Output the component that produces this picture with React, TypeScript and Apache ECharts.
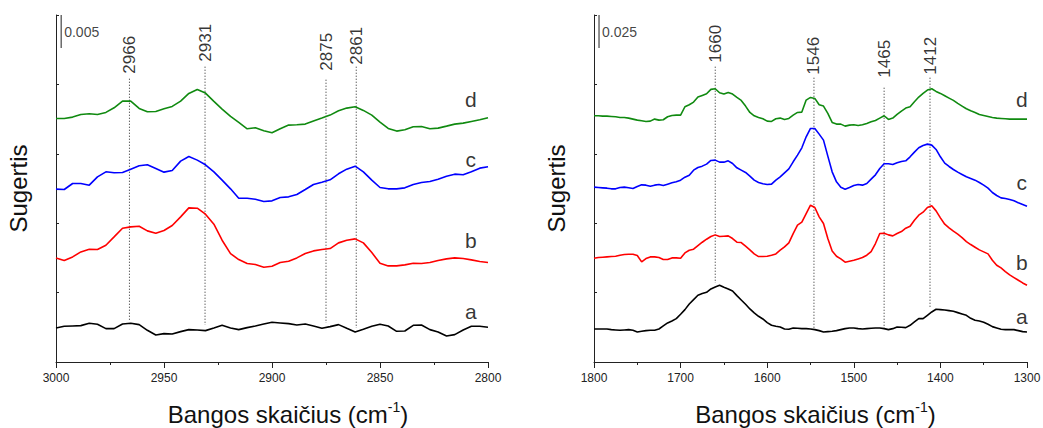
import React, { useEffect, useRef } from "react";
import * as echarts from "echarts";

// ---------- data (arbitrary absorbance units, offsets included) ----------
const WN_LEFT = [
  3000, 2996.2, 2992.3, 2988.5, 2984.6, 2980.8, 2976.9, 2973.1, 2969.2, 2965.4,
  2961.5, 2957.7, 2953.8, 2950, 2946.2, 2942.3, 2938.5, 2934.6, 2930.8, 2926.9,
  2923.1, 2919.2, 2915.4, 2911.5, 2907.7, 2903.8, 2900, 2896.2, 2892.3, 2888.5,
  2884.6, 2880.8, 2876.9, 2873.1, 2869.2, 2865.4, 2861.5, 2857.7, 2853.8, 2850,
  2846.2, 2842.3, 2838.5, 2834.6, 2830.8, 2826.9, 2823.1, 2819.2, 2815.4, 2811.5,
  2807.7, 2803.8, 2800,
];
const A_LEFT = [
  10.2, 10.7, 10.8, 10.9, 11.6, 11.3, 10.0, 10.0, 11.4, 11.6,
  11.2, 9.5, 8.1, 8.5, 8.4, 9.1, 9.7, 9.6, 9.4, 10.2,
  11.0, 10.2, 9.7, 10.3, 10.8, 11.4, 11.9, 11.7, 11.5, 11.1,
  11.4, 10.8, 10.1, 10.6, 11.2, 10.1, 9.0, 9.8, 10.7, 11.3,
  10.8, 9.2, 9.3, 11.0, 11.1, 9.7, 9.0, 7.8, 8.2, 9.6,
  10.7, 10.7, 10.4,
];
const B_LEFT = [
  31.2, 30.4, 31.5, 33.0, 33.8, 33.7, 35.0, 37.5, 40.1, 40.5,
  40.7, 39.3, 38.6, 39.4, 40.9, 43.5, 46.2, 46.1, 44.3, 41.3,
  36.5, 32.5, 30.7, 29.5, 29.2, 28.4, 28.7, 29.8, 30.2, 31.2,
  32.5, 33.3, 33.7, 34.0, 35.7, 36.5, 36.9, 35.7, 32.8, 29.6,
  28.8, 28.8, 29.1, 29.6, 29.5, 29.8, 30.4, 30.9, 31.2, 31.0,
  30.6, 30.1, 29.8,
];
const C_LEFT = [
  51.8, 51.7, 53.5, 53.5, 53.0, 55.5, 57.0, 56.7, 56.8, 57.8,
  58.8, 59.1, 58.0, 56.9, 57.4, 60.2, 61.6, 60.5, 59.1, 57.0,
  54.5, 51.9, 49.1, 49.1, 48.8, 48.1, 48.3, 49.3, 49.5, 50.2,
  51.7, 53.2, 53.9, 54.6, 56.4, 57.8, 58.7, 57.0, 54.5, 52.3,
  51.9, 51.9, 52.2, 53.2, 53.8, 54.1, 54.8, 55.7, 56.3, 56.1,
  57.0, 58.1, 58.5,
];
const D_LEFT = [
  73.0, 73.0, 73.4, 74.2, 74.4, 74.2, 74.8, 76.2, 78.2, 78.2,
  76.0, 75.0, 75.1, 75.9, 76.6, 78.2, 80.5, 81.7, 80.6, 78.1,
  75.8, 73.6, 71.8, 69.9, 70.2, 69.3, 68.7, 69.9, 71.0, 71.1,
  71.3, 72.2, 73.1, 74.0, 75.3, 76.1, 76.5, 75.4, 74.0, 71.9,
  70.0, 69.2, 69.6, 70.5, 70.6, 69.9, 70.1, 70.7, 71.3, 71.6,
  72.1, 72.6, 73.2,
];

const WN_RIGHT = [
  1800, 1795, 1790, 1785, 1780, 1775, 1770, 1765, 1760, 1755,
  1750, 1745, 1740, 1735, 1730, 1725, 1720, 1715, 1710, 1705,
  1700, 1695, 1690, 1685, 1680, 1675, 1670, 1665, 1660, 1655,
  1650, 1645, 1640, 1635, 1630, 1625, 1620, 1615, 1610, 1605,
  1600, 1595, 1590, 1585, 1580, 1575, 1570, 1565, 1560, 1555,
  1550, 1545, 1540, 1535, 1530, 1525, 1520, 1515, 1510, 1505,
  1500, 1495, 1490, 1485, 1480, 1475, 1470, 1465, 1460, 1455,
  1450, 1445, 1440, 1435, 1430, 1425, 1420, 1415, 1410, 1405,
  1400, 1395, 1390, 1385, 1380, 1375, 1370, 1365, 1360, 1355,
  1350, 1345, 1340, 1335, 1330, 1325, 1320, 1315, 1310, 1305,
  1300,
];
const A_RIGHT = [
  9.9, 9.9, 9.9, 9.9, 9.7, 9.6, 9.5, 9.6, 9.7, 9.5,
  9.0, 9.2, 9.4, 9.5, 9.5, 9.9, 10.8, 11.7, 12.3, 13.0,
  14.3, 15.7, 17.4, 18.7, 20.0, 20.5, 20.9, 21.9, 22.5, 23.0,
  22.4, 21.9, 21.3, 19.9, 18.6, 17.3, 15.9, 14.7, 13.7, 12.9,
  11.8, 11.0, 10.7, 10.5, 9.9, 9.8, 10.2, 10.1, 10.0, 10.0,
  9.9, 9.7, 9.4, 9.0, 9.1, 9.2, 9.4, 9.7, 10.0, 10.2,
  10.2, 10.0, 9.9, 10.0, 10.1, 10.2, 10.2, 10.0, 9.7, 10.0,
  10.5, 10.4, 10.3, 11.0, 12.0, 13.0, 13.0, 14.0, 15.0, 15.8,
  15.7, 15.6, 15.4, 15.2, 14.8, 14.4, 14.0, 13.1, 12.5, 12.3,
  11.9, 11.3, 10.6, 10.2, 9.8, 9.7, 9.7, 9.7, 9.4, 9.1,
  9.0,
];
const B_RIGHT = [
  31.1, 31.3, 31.4, 31.5, 31.6, 31.7, 32.0, 32.2, 32.3, 32.3,
  31.9, 30.0, 31.0, 31.5, 31.5, 31.3, 30.7, 30.7, 31.2, 31.2,
  31.1, 32.7, 33.5, 33.8, 34.9, 35.9, 36.8, 37.6, 38.1, 37.6,
  37.7, 37.8, 37.0, 35.9, 35.8, 34.7, 33.6, 32.4, 31.6, 31.6,
  31.7, 32.0, 32.4, 33.5, 34.5, 35.7, 38.5, 41.0, 41.9, 44.5,
  47.0, 46.3, 43.5, 41.5, 37.0, 33.3, 31.7, 30.9, 29.9, 30.2,
  30.5, 30.9, 31.3, 32.0, 33.1, 35.5, 38.5, 38.6, 38.1, 37.8,
  38.5, 39.1, 40.1, 40.7, 42.5, 44.0, 44.9, 46.3, 46.8, 45.3,
  43.2, 41.3, 40.2, 39.2, 38.3, 37.3, 36.1, 35.2, 34.4, 33.6,
  33.0, 32.4, 30.5, 29.0, 28.2, 27.1, 26.1, 25.3, 24.5, 23.7,
  23.0,
];
const C_RIGHT = [
  52.4, 52.3, 52.2, 52.1, 51.9, 51.9, 52.3, 52.4, 52.2, 52.0,
  52.6, 53.1, 53.0, 52.7, 53.0, 53.2, 52.9, 53.3, 53.7, 54.0,
  54.5, 55.4, 56.0, 57.5, 58.3, 58.7, 59.3, 60.4, 60.5, 59.9,
  59.9, 60.3, 59.5, 58.2, 57.5, 56.8, 55.7, 54.5, 53.8, 53.4,
  53.2, 53.3, 54.5, 55.5, 56.7, 57.9, 60.0, 62.0, 64.2, 67.5,
  70.0, 70.0, 68.3, 66.5, 61.7, 57.0, 54.0, 52.4, 51.8, 52.3,
  52.9, 53.2, 53.0, 53.5, 54.8, 56.1, 58.0, 59.4, 59.4, 59.2,
  59.7, 60.1, 60.3, 61.5, 62.9, 64.2, 64.9, 65.3, 65.0, 63.7,
  61.5, 59.6, 58.6, 57.7, 56.9, 56.2, 55.5, 55.0, 54.5, 53.8,
  53.0, 52.1, 50.8, 49.9, 49.2, 49.0, 48.7, 48.3, 47.7, 47.2,
  46.7,
];
const D_RIGHT = [
  73.8, 73.8, 73.7, 73.7, 73.6, 73.5, 73.3, 73.3, 73.1, 72.8,
  72.5, 72.3, 72.1, 72.2, 72.8, 72.5, 72.6, 73.5, 73.9, 74.0,
  74.0, 76.5, 77.1, 77.9, 79.4, 79.9, 80.4, 81.7, 81.9, 80.7,
  80.3, 80.8, 80.3, 79.3, 78.4, 76.7, 74.8, 73.8, 73.3, 72.9,
  72.2, 72.1, 72.9, 73.1, 72.7, 73.0, 74.0, 74.8, 74.9, 78.5,
  79.3, 79.0, 77.1, 76.7, 74.5, 71.8, 71.3, 71.3, 70.7, 71.0,
  71.1, 70.9, 71.1, 71.5, 72.0, 72.4, 73.1, 73.8, 72.7, 73.1,
  74.2, 75.2, 76.1, 76.5, 78.0, 79.4, 80.5, 81.5, 81.9, 81.1,
  80.5, 79.8, 79.1, 78.4, 77.5, 76.7, 75.9, 75.3, 74.8, 74.2,
  73.9, 73.6, 73.3, 73.1, 73.0, 72.9, 72.8, 72.8, 72.8, 72.8,
  72.8,
];

const CURVE_NAMES = ["a", "b", "c", "d"];

// peak annotations (wavenumber, label base, dotted line top/bottom)
const LEFT_PEAKS = [2966, 2931, 2875, 2861];
const LEFT_PEAK_LABEL_Y = [86.4, 90.0, 87.3, 89.1];
const LEFT_PEAK_TOP = [84.9, 88.5, 84.6, 88.5];
const LEFT_PEAK_BOTTOM = [12.6, 11.1, 11.7, 10.2];

const RIGHT_PEAKS = [1660, 1546, 1465, 1412];
const RIGHT_PEAK_LABEL_Y = [89.7, 86.1, 85.2, 86.1];
const RIGHT_PEAK_TOP = [88.5, 85.2, 82.2, 85.2];
const RIGHT_PEAK_BOTTOM = [23.7, 10.2, 10.2, 16.2];

// curve-letter anchors
const LEFT_LETTER_X = 2808;
const LEFT_LETTER_Y = [15.0, 36.3, 60.6, 78.6];
const RIGHT_LETTER_X = 1306;
const RIGHT_LETTER_Y = [13.5, 29.7, 53.7, 78.6];

// scale bars
const LEFT_SCALE = { x: 2997.6, top: 104, bottom: 94.1, label: "0.005" };
const RIGHT_SCALE = { x: 1794.2, top: 104, bottom: 94.1, label: "0.025" };

const FONT = "'Liberation Sans', Arial, Helvetica, sans-serif";
const COLORS = ["#000000", "#ff0000", "#0000ff", "#108a10"];

function zip(xs: number[], ys: number[]) {
  return xs.map((x, i) => [x, ys[i]]);
}

export default function App() {
  const ref = useRef<HTMLDivElement>(null);

  useEffect(() => {
    if (!ref.current) return;
    const chart = echarts.init(ref.current, undefined, { renderer: "svg" });

    const xName = (pad: number) => ({
      name: "{a|Bangos skaičius (cm}{s|-1}{a|)}",
      nameLocation: "middle",
      nameGap: 38,
      nameTextStyle: {
        padding: [0, 0, 0, pad],
        rich: {
          a: { fontSize: 24, fontFamily: FONT, color: "#111", lineHeight: 28 },
          s: { fontSize: 14, fontFamily: FONT, color: "#111", lineHeight: 16, verticalAlign: "top" },
        },
      },
    });

    const xAxisBase = {
      type: "value",
      inverse: true,
      axisLine: { show: true, lineStyle: { color: "#222", width: 1 } },
      axisTick: { show: true, length: 6, lineStyle: { color: "#222", width: 1 } },
      minorTick: { show: true, splitNumber: 2, length: 3, lineStyle: { color: "#222", width: 1 } },
      axisLabel: {
        fontSize: 12,
        color: "#222",
        fontFamily: FONT,
        margin: 10,
        showMinLabel: true,
        showMaxLabel: true,
        formatter: (v: number) => String(v),
      },
      splitLine: { show: false },
      minorSplitLine: { show: false },
    };

    const yAxisBase = {
      type: "value",
      min: 0,
      max: 104,
      interval: 20.8,
      axisLine: { show: true, lineStyle: { color: "#222", width: 1 } },
      axisTick: { show: true, inside: true, length: 3, lineStyle: { color: "#222" } },
      axisLabel: { show: false },
      splitLine: { show: false },
      name: "Sugertis",
      nameLocation: "middle",
      nameGap: 26,
      nameRotate: 90,
      nameTextStyle: { fontSize: 24, fontFamily: FONT, color: "#111" },
    };

    const series: any[] = [];
    const leftCurves = [A_LEFT, B_LEFT, C_LEFT, D_LEFT];
    const rightCurves = [A_RIGHT, B_RIGHT, C_RIGHT, D_RIGHT];

    const addPanel = (
      idx: number,
      xs: number[],
      curves: number[][],
      peaks: number[],
      labelY: number[],
      top: number[],
      bottom: number[],
      letterX: number,
      letterY: number[],
      scale: { x: number; top: number; bottom: number; label: string }
    ) => {
      peaks.forEach((p, i) => {
        series.push({
          type: "line",
          xAxisIndex: idx,
          yAxisIndex: idx,
          data: [
            [p, top[i]],
            [p, bottom[i]],
          ],
          symbol: "none",
          silent: true,
          lineStyle: { color: "#222", width: 1, type: [1, 2] },
          z: 1,
        });
      });
      curves.forEach((c, i) => {
        series.push({
          type: "line",
          name: CURVE_NAMES[i],
          xAxisIndex: idx,
          yAxisIndex: idx,
          data: zip(xs, c),
          symbol: "none",
          silent: true,
          lineStyle: { color: COLORS[i], width: 1.6 },
          z: 3,
        });
      });
      series.push({
        type: "scatter",
        xAxisIndex: idx,
        yAxisIndex: idx,
        symbolSize: 0,
        silent: true,
        data: peaks.map((p, i) => ({ value: [p, labelY[i]], name: String(p) })),
        label: {
          show: true,
          formatter: "{b}",
          position: "inside",
          rotate: 90,
          align: "left",
          verticalAlign: "middle",
          fontSize: 17,
          fontFamily: FONT,
          color: "#000",
        },
      });
      series.push({
        type: "scatter",
        xAxisIndex: idx,
        yAxisIndex: idx,
        symbolSize: 0,
        silent: true,
        data: CURVE_NAMES.map((n, i) => ({ value: [letterX, letterY[i]], name: n })),
        label: {
          show: true,
          formatter: "{b}",
          position: "inside",
          fontSize: 21,
          fontFamily: FONT,
          color: "#000",
        },
      });
      series.push({
        type: "line",
        xAxisIndex: idx,
        yAxisIndex: idx,
        data: [
          [scale.x, scale.top],
          [scale.x, scale.bottom],
        ],
        symbol: "none",
        silent: true,
        lineStyle: { color: "#444", width: 1.2 },
      });
      series.push({
        type: "scatter",
        xAxisIndex: idx,
        yAxisIndex: idx,
        symbolSize: 0,
        silent: true,
        data: [{ value: [scale.x, (scale.top + scale.bottom) / 2], name: scale.label }],
        label: {
          show: true,
          formatter: "{b}",
          position: "inside",
          align: "left",
          verticalAlign: "middle",
          offset: [3, 0],
          fontSize: 14,
          fontFamily: FONT,
          color: "#111",
        },
      });
    };

    addPanel(0, WN_LEFT, leftCurves, LEFT_PEAKS, LEFT_PEAK_LABEL_Y, LEFT_PEAK_TOP, LEFT_PEAK_BOTTOM, LEFT_LETTER_X, LEFT_LETTER_Y, LEFT_SCALE);
    addPanel(1, WN_RIGHT, rightCurves, RIGHT_PEAKS, RIGHT_PEAK_LABEL_Y, RIGHT_PEAK_TOP, RIGHT_PEAK_BOTTOM, RIGHT_LETTER_X, RIGHT_LETTER_Y, RIGHT_SCALE);

    chart.setOption({
      animation: false,
      backgroundColor: "#ffffff",
      textStyle: { fontFamily: FONT },
      grid: [
        { left: 56, top: 15, width: 432, height: 347, outerBoundsMode: "none", containLabel: false },
        { left: 594, top: 15, width: 433, height: 347, outerBoundsMode: "none", containLabel: false },
      ],
      xAxis: [
        { ...xAxisBase, gridIndex: 0, min: 2800, max: 3000, interval: 50, ...xName(32) },
        { ...xAxisBase, gridIndex: 1, min: 1300, max: 1800, interval: 100, ...xName(10) },
      ],
      yAxis: [
        { ...yAxisBase, gridIndex: 0 },
        { ...yAxisBase, gridIndex: 1 },
      ],
      series,
    });

    return () => chart.dispose();
  }, []);

  return (
    <div
      ref={ref}
      style={{ position: "absolute", left: 0, top: 0, width: 1043, height: 428, background: "#fff" }}
    />
  );
}
